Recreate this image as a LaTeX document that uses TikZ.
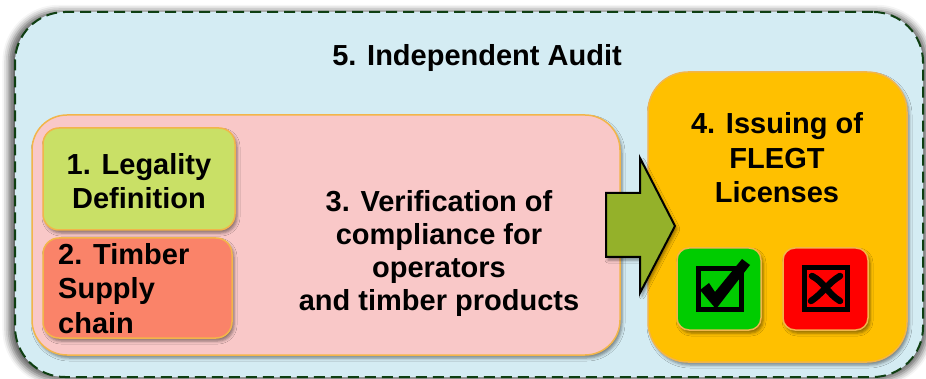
\documentclass[tikz,border=0pt]{standalone}
\usepackage{fontspec}
\setmainfont{Liberation Sans}
\usetikzlibrary{shadows.blur}
\definecolor{auditbg}{HTML}{D4ECF3}
\definecolor{auditedge}{HTML}{0F3F12}
\definecolor{verifbg}{HTML}{F9C8C8}
\definecolor{legalbg}{HTML}{C9E066}
\definecolor{supplybg}{HTML}{FA8369}
\definecolor{issuebg}{HTML}{FFC000}
\definecolor{okbg}{HTML}{00CC00}
\definecolor{nobg}{HTML}{FF0000}
\definecolor{arrowbg}{HTML}{94B12A}
\definecolor{boxedge}{HTML}{F2B54A}
\begin{document}
\begin{tikzpicture}[x=1pt,y=-1pt,
  box/.style={rectangle, draw=boxedge, line width=1.5pt, inner sep=0pt,
    blur shadow={shadow xshift=2pt, shadow yshift=-3pt, shadow blur radius=3pt, shadow opacity=45}},
  lbl/.style={inner sep=0pt, font=\fontsize{29}{34.5}\selectfont\bfseries}
]
\useasboundingbox (0,0) rectangle (926,379);
% outer audit frame
\node[rectangle, rounded corners=50pt, fill=auditbg, draw=auditedge, line width=2pt,
  dash pattern=on 11pt off 6pt, minimum width=908pt, minimum height=365pt,
  blur shadow={shadow xshift=-1pt, shadow yshift=-1pt, shadow scale=1.012, shadow blur radius=6pt, shadow opacity=60}]
  (audit) at (469,194.5) {};
\node[lbl, anchor=base] (audittext) at (477,66) {5. Independent Audit};
% verification box
\node[box, rounded corners=35pt, fill=verifbg, minimum width=588pt, minimum height=240pt] (verif) at (326,235) {};
\node[lbl, align=center, font=\fontsize{29}{33}\selectfont\bfseries] (veriftext) at (439,254.4)
  {\strut 3. Verification of\\\strut compliance for\\\strut operators\\\strut and timber products};
% legality
\node[box, rounded corners=16pt, fill=legalbg, minimum width=192pt, minimum height=102pt] (legal) at (139,179) {};
\node[lbl, align=center] (legaltext) at (139,184.8) {\strut 1. Legality\\\strut Definition};
% supply chain
\node[box, rounded corners=16pt, fill=supplybg, minimum width=189pt, minimum height=100pt] (supply) at (137.5,288) {};
\node[lbl, align=left, anchor=west] (supplytext) at (58,291.8) {\strut 2. Timber\\\strut Supply\\\strut chain};
% issuing
\node[box, rounded corners=40pt, fill=issuebg, minimum width=259pt, minimum height=290pt] (issue) at (777.5,217) {};
\node[lbl, align=center] (issuetext) at (777,161.3) {\strut 4. Issuing of\\\strut FLEGT\\\strut Licenses};
% block arrow
\draw[fill=arrowbg, line width=2pt, line join=miter,
  blur shadow={shadow xshift=2pt, shadow yshift=-3pt, shadow blur radius=3pt, shadow opacity=45}]
  (606,193) -- (640,193) -- (640,158) -- (675,226) -- (640,293) -- (640,257) -- (606,257) -- cycle;
% ok / no boxes
\node[box, rounded corners=12pt, fill=okbg, minimum width=84pt, minimum height=82pt] (ok) at (719,289) {};
\node[box, rounded corners=12pt, fill=nobg, minimum width=85pt, minimum height=82pt] (no) at (825.5,289) {};
% check symbol
\node[draw=black, line width=5pt, minimum width=43pt, minimum height=41pt, inner sep=0pt] (oksq) at (720,289) {};
\fill[black] (700,290) -- (709,283) -- (715,292) -- (742,259) -- (750,265) -- (716,309) -- cycle;
% cross symbol
\node[draw=black, line width=5pt, minimum width=43pt, minimum height=42pt, inner sep=0pt] (nosq) at (826,288.5) {};
\draw[line width=6.5pt, line cap=round] (812,276) .. controls (824,282) and (828,294) .. (840,301);
\draw[line width=6.5pt, line cap=round] (840,276) .. controls (828,283) and (822,294) .. (811,301);
\end{tikzpicture}
\end{document}
